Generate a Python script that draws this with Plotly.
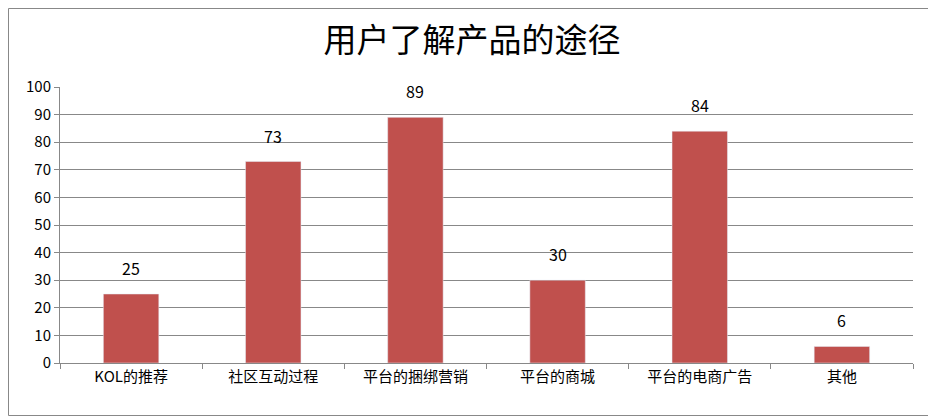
import plotly.graph_objects as go

categories = ["KOL的推荐", "社区互动过程", "平台的捆绑营销", "平台的商城", "平台的电商广告", "其他"]
values = [25, 73, 89, 30, 84, 6]

font = "Noto Sans CJK SC"
W, H = 928, 409
l, r, t, b = 52, 23, 79, 54
pw, ph = W - l - r, H - t - b
fig = go.Figure(go.Bar(x=categories, y=values, marker_color="#C0504D", width=0.39))
for c, v in zip(categories, values):
    fig.add_annotation(x=c, y=v, text=str(v), showarrow=False, yanchor="bottom", yshift=12,
                       font=dict(size=16, color="black", family=font))
fig.update_layout(
    width=W, height=H, paper_bgcolor="white", plot_bgcolor="white",
    margin=dict(l=l, r=r, t=t, b=b), showlegend=False,
    title=dict(text="用户了解产品的途径", x=0.5, xanchor="center", y=1 - 32 / H, yanchor="middle",
               font=dict(size=33, color="black", family=font)),
    xaxis=dict(showline=True, linecolor="#888", ticks="outside", tickcolor="#888", ticklen=5,
               tickson="boundaries", tickfont=dict(size=15, color="black", family=font)),
    yaxis=dict(range=[0, 100], dtick=10, showline=True, linecolor="#888", ticks="outside",
               tickcolor="#888", ticklen=5, gridcolor="#888", zeroline=False,
               tickfont=dict(size=15, color="black", family=font)),
    shapes=[dict(type="rect", xref="paper", yref="paper", x0=-(l - 0.5) / pw, x1=1 + (r - 1.5) / pw,
                 y0=-(b - 1.5) / ph, y1=1 + (t - 0.5) / ph, line=dict(color="#888", width=1))])
fig.write_html("out.html")
